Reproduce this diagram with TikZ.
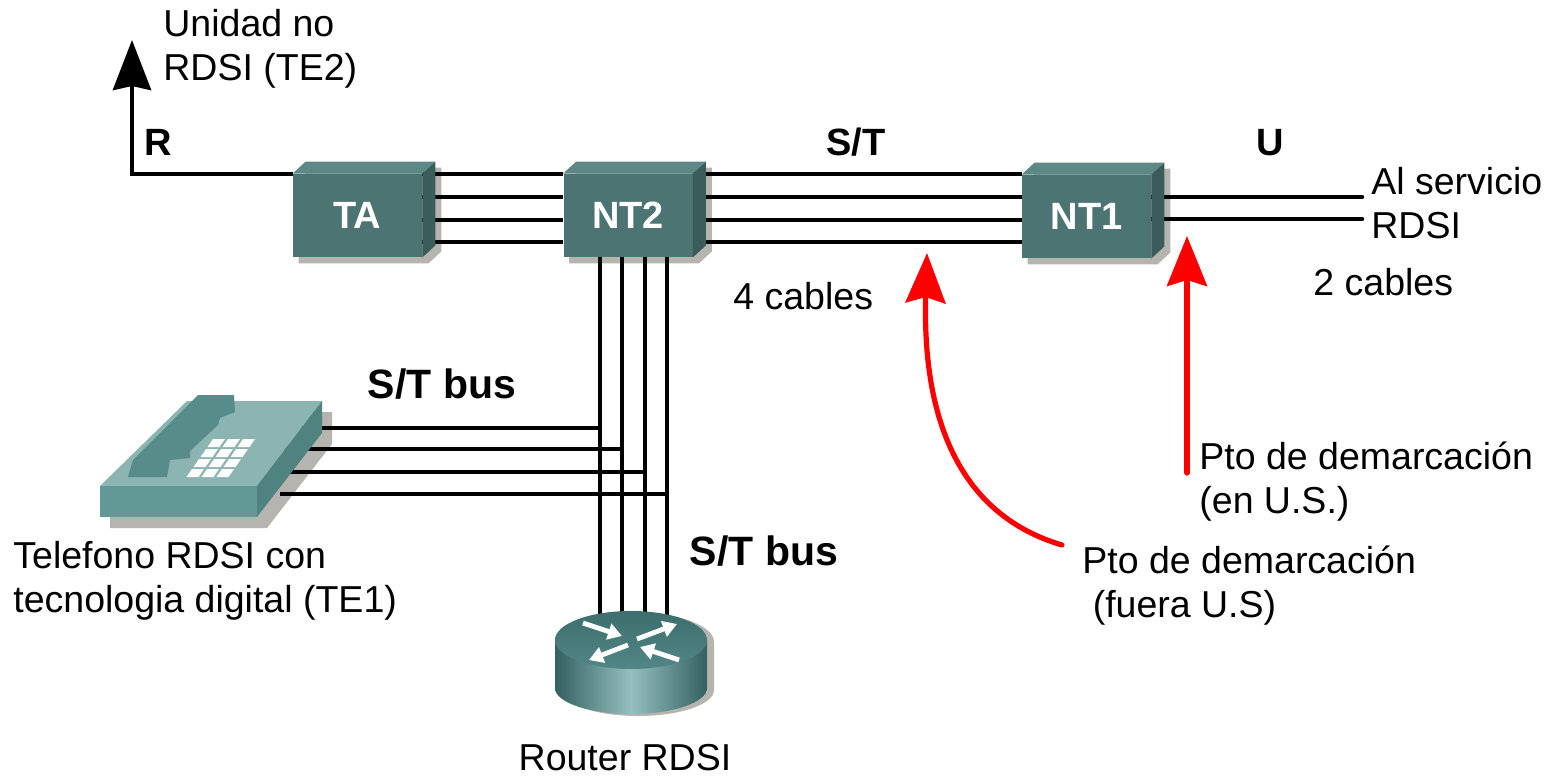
\documentclass[tikz,border=0pt]{standalone}
\usepackage{fontspec}
\setmainfont{Liberation Sans}
\usetikzlibrary{arrows.meta,calc}

\pgfdeclarelayer{shadow}
\pgfdeclarelayer{wires}
\pgfsetlayers{shadow,wires,main}

\definecolor{boxfront}{RGB}{75,116,114}
\definecolor{boxtop}{RGB}{94,136,134}
\definecolor{boxside}{RGB}{58,92,90}
\definecolor{dropshadow}{RGB}{182,180,174}
\definecolor{phonetop}{RGB}{140,180,178}
\definecolor{phonefront}{RGB}{98,152,150}
\definecolor{phoneside}{RGB}{80,130,128}
\definecolor{handset}{RGB}{88,140,138}
\definecolor{routerdark}{RGB}{52,96,96}
\definecolor{routerlight}{RGB}{150,192,192}
\definecolor{routertop}{RGB}{82,134,134}
\definecolor{routertopdark}{RGB}{62,110,110}

% 3-D network box: front face is the named node, top and side faces added
\newcommand\netbox[4]{%
  \node[device] (#1) at (#2,#3) {#4};
  \fill[boxtop] (#1.north west) -- ++(13,-12) -- ([shift={(13,-12)}]#1.north east) -- (#1.north east) -- cycle;
  \fill[boxside] (#1.north east) -- ++(13,-12) -- ([shift={(13,-12)}]#1.south east) -- (#1.south east) -- cycle;
  \begin{pgfonlayer}{shadow}
    \fill[dropshadow] ([shift={(6,6)}]#1.south west) -- ([shift={(6,6)}]#1.north west)
      -- ([shift={(19,-6)}]#1.north west) -- ([shift={(19,-6)}]#1.north east)
      -- ([shift={(19,-6)}]#1.south east) -- ([shift={(6,6)}]#1.south east) -- cycle;
  \end{pgfonlayer}}

\begin{document}
\begin{tikzpicture}[x=0.5pt,y=-0.5pt,
  wire/.style={line width=2.3pt, black},
  redarrow/.style={line width=2.6pt, red, -{Stealth[length=25pt,width=20pt,inset=3pt]}},
  device/.style={fill=boxfront, minimum width=64.5pt, minimum height=41.5pt, inner sep=0pt,
    text=white, font=\fontsize{19}{22}\selectfont\bfseries},
  lbl/.style={inner sep=0pt, font=\fontsize{18.75}{22}\selectfont, align=left},
  blbl/.style={inner sep=0pt, font=\fontsize{19}{22}\selectfont\bfseries},
  buslbl/.style={inner sep=0pt, font=\fontsize{20.5}{22}\selectfont\bfseries},
  arw/.style={white, line width=2.4pt, -{Triangle[length=7pt,width=8pt]}},
]
\useasboundingbox (0,0) rectangle (1558,776);
\begin{pgfonlayer}{shadow}
  \fill[white] (0,0) rectangle (1558,776);
\end{pgfonlayer}

% network terminations
\netbox{TA}{357.5}{215.5}{TA}
\netbox{NT2}{628}{215.5}{NT2}
\netbox{NT1}{1086.5}{216.5}{NT1}

% fixed points
\coordinate (te2) at (132,40);
\coordinate (isdn) at (1362,0);
\coordinate (phone) at (280,460);
\coordinate (router) at (631,640);

% four-wire S/T bus, two-wire U loop, R interface
\begin{pgfonlayer}{wires}
  \foreach \y in {174,197,220,242} {
    \draw[wire] (TA.east |- 0,\y) -- (NT2.west |- 0,\y);
    \draw[wire] (NT2.east |- 0,\y) -- (NT1.west |- 0,\y);
  }
  \foreach \y in {197,219}
    \draw[wire, line cap=round] (NT1.east |- 0,\y) -- (isdn |- 0,\y);
  \draw[wire, -{Stealth[length=25pt,width=19pt,inset=2pt]}] (TA.west |- 0,174) -| (te2);
  \foreach \x in {600,622,645,667}
    \draw[wire] (\x,0 |- NT2.south) -- (\x,0 |- router);
  \foreach \y/\x in {428/601,449/623,472/646,494/668}
    \draw[wire] (phone |- 0,\y) -- (\x,\y);
\end{pgfonlayer}

% ISDN telephone
\begin{pgfonlayer}{shadow}
  \fill[dropshadow] (110,497) -- (197,412) -- (332,412) -- (332,444) -- (267,528) -- (110,528) -- cycle;
\end{pgfonlayer}
\fill[phonetop] (100,486) -- (187,401) -- (322,401) -- (257,486) -- cycle;
\fill[phonefront] (100,486) rectangle (257,517);
\fill[phoneside] (257,486) -- (322,401) -- (322,433) -- (257,517) -- cycle;
\fill[handset] (128,477) -- (133,460) -- (198,395) -- (234,395) -- (235,412) -- (220,418)
  -- (218,425) -- (190,451) -- (190,458) -- (170,460) -- (167,477) -- cycle;
\foreach \i in {0,1,2}
  \foreach \j in {0,1,2,3}
    \fill[white] ({185+15*\i+7*\j+1.5},{478-10*\j-1}) -- ++(12,0) -- ++(5.5,-8) -- ++(-12,0) -- cycle;

% ISDN router
\begin{pgfonlayer}{shadow}
  \fill[dropshadow] (562,642) -- (562,690) arc[start angle=180, end angle=360, x radius=38pt, y radius=13pt]
    -- (714,642) arc[start angle=0, end angle=180, x radius=38pt, y radius=14.5pt] -- cycle;
\end{pgfonlayer}
\shade[left color=routerdark, right color=routerdark, middle color=routerlight]
  (555,640) -- (555,688) arc[start angle=180, end angle=360, x radius=38pt, y radius=13pt] -- (707,640) -- cycle;
\shade[top color=routertopdark, bottom color=routertop] (router) ellipse [x radius=38pt, y radius=14.5pt];
\draw[arw] (583,623) -- (622,636);
\draw[arw] (637,639) -- (677,624);
\draw[arw] (628,645) -- (589,660);
\draw[arw] (679,660) -- (640,647);

% demarcation points
\coordinate (usTip) at (1187,236);
\coordinate (usStart) at (1187,473);
\coordinate (outTip) at (927,253);
\coordinate (outStart) at (1062,545);
\draw[redarrow, line cap=round] (usStart) -- (usTip);
\draw[redarrow, line cap=round] (outStart) .. controls (960,515) and (922,420) .. (outTip);

% labels
\node[lbl, anchor=north west] (lte2) at (163,9) {Unidad no\\RDSI (TE2)};
\node[blbl, anchor=base] (lR) at (158,155) {R};
\node[blbl, anchor=base] (lST) at (856,155) {S/T};
\node[blbl, anchor=base] (lU) at (1270,155) {U};
\node[lbl, anchor=north west] (lsvc) at (1371,167) {Al servicio\\RDSI};
\node[lbl, anchor=base west] (l2c) at (1313,295) {2 cables};
\node[lbl, anchor=base west] (l4c) at (733,309) {4 cables};
\node[buslbl, anchor=base] (lbus1) at (442,398) {S/T bus};
\node[buslbl, anchor=base] (lbus2) at (764,565) {S/T bus};
\node[lbl, anchor=north west] (lte1) at (13,541) {Telefono RDSI con\\tecnologia digital (TE1)};
\node[lbl, anchor=base] (lrouter) at (625,770) {Router RDSI};
\node[lbl, anchor=north west] (lus) at (1199,441) {Pto de demarcación\\(en U.S.)};
\node[lbl, anchor=north west] (lout) at (1082,545) {Pto de demarcación\\~(fuera U.S)};
\end{tikzpicture}
\end{document}
